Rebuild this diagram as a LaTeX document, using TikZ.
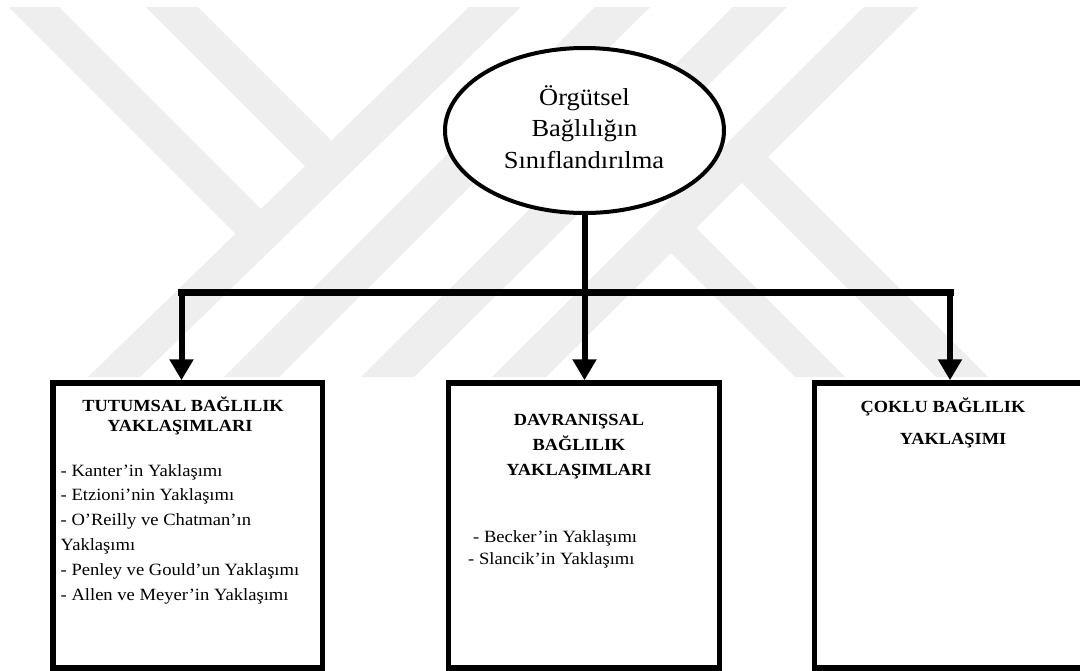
\documentclass[tikz,border=0pt]{standalone}
\usepackage{fontspec}
\setmainfont[FakeStretch=1.08]{Liberation Serif}
\usetikzlibrary{arrows.meta,shapes.geometric}
\definecolor{wm}{gray}{0.935}
\begin{document}
\begin{tikzpicture}[x=1pt,y=-1pt,
  box/.style={draw, line width=5.5pt, fill=white, inner sep=0pt, minimum height=285pt},
  conn/.style={line width=6pt, -{Triangle[width=23pt,length=21pt]}},
  bar/.style={line width=7pt, line cap=rect},
  head/.style={font=\bfseries\fontsize{17}{17}\selectfont, anchor=base, inner sep=0pt},
  item/.style={font=\fontsize{17.2}{24.8}\selectfont, anchor=base west, inner sep=0pt},
  roottxt/.style={font=\fontsize{24.5}{31.5}\selectfont, anchor=base, inner sep=0pt}]
\useasboundingbox (0,0) rectangle (1080,670);
\fill[white] (0,0) rectangle (1080,670);
% watermark
\begin{scope}
\clip (0,7) rectangle (1080,377);
\fill[wm] (469,7) -- (521,7) -- (140,377) -- (88,377) -- cycle;
\fill[wm] (9,7) -- (59,7) -- (273.8,221.8) -- (248.4,246.4) -- cycle;
\fill[wm] (146,7) -- (198,7) -- (344.3,153.3) -- (317.9,178.9) -- cycle;
\fill[wm] (595,7) -- (650,7) -- (279,377) -- (224,377) -- cycle;
\fill[wm] (733,7) -- (787,7) -- (414,377) -- (361,377) -- cycle;
\fill[wm] (864,7) -- (919,7) -- (546,377) -- (492,377) -- cycle;
\fill[wm] (754,143) -- (988,377) -- (936,377) -- (728,169) -- cycle;
\fill[wm] (682.5,214.5) -- (845,377) -- (795,377) -- (657.5,239.5) -- cycle;
\end{scope}
% nodes
\node (root) [draw, ellipse, line width=4pt, fill=white, inner sep=0pt,
  minimum width=279pt, minimum height=165pt] at (584.5,130.5) {};
\node (boxL) [box, minimum width=269.5pt] at (187.75,525.5) {};
\node (boxM) [box, minimum width=271pt] at (584,525.5) {};
\node (boxR) [box, minimum width=277.5pt] at (953.25,525.5) {};
% connectors
\coordinate (cL) at (181.5,292);
\coordinate (cR) at (950,292);
\draw[bar] (cL) -- (cR);
\draw[conn] (root.south) -- (root.south |- boxM.north);
\draw[conn] (cL) -- (cL |- boxL.north);
\draw[conn] (cR) -- (cR |- boxR.north);
% root text
\node[roottxt] (r1) at (584.5,105) {Örgütsel};
\node[roottxt] (r2) at (584.5,136.5) {Bağlılığın};
\node[roottxt] (r3) at (584,168) {Sınıflandırılma};
% headings
\node[head] (hL1) at (183,411) {TUTUMSAL BAĞLILIK};
\node[head] (hL2) at (180,431) {YAKLAŞIMLARI};
\node[head] (hM1) at (579,425) {DAVRANIŞSAL};
\node[head] (hM2) at (579,450) {BAĞLILIK};
\node[head] (hM3) at (579,475) {YAKLAŞIMLARI};
\node[head] (hR1) at (943,412) {ÇOKLU BAĞLILIK};
\node[head] (hR2) at (953,444) {YAKLAŞIMI};
% items
\node[item] (l1) at (60.5,476) {- Kanter’in Yaklaşımı};
\node[item] (l2) at (60.5,500.8) {- Etzioni’nin Yaklaşımı};
\node[item] (l3) at (60.5,525.6) {- O’Reilly ve Chatman’ın};
\node[item] (l4) at (60.5,550.4) {Yaklaşımı};
\node[item] (l5) at (60.5,575.2) {- Penley ve Gould’un Yaklaşımı};
\node[item] (l6) at (60.5,600) {- Allen ve Meyer’in Yaklaşımı};
\node[item] (m1) at (473,542) {- Becker’in Yaklaşımı};
\node[item] (m2) at (468,564) {- Slancik’in Yaklaşımı};
\end{tikzpicture}
\end{document}
